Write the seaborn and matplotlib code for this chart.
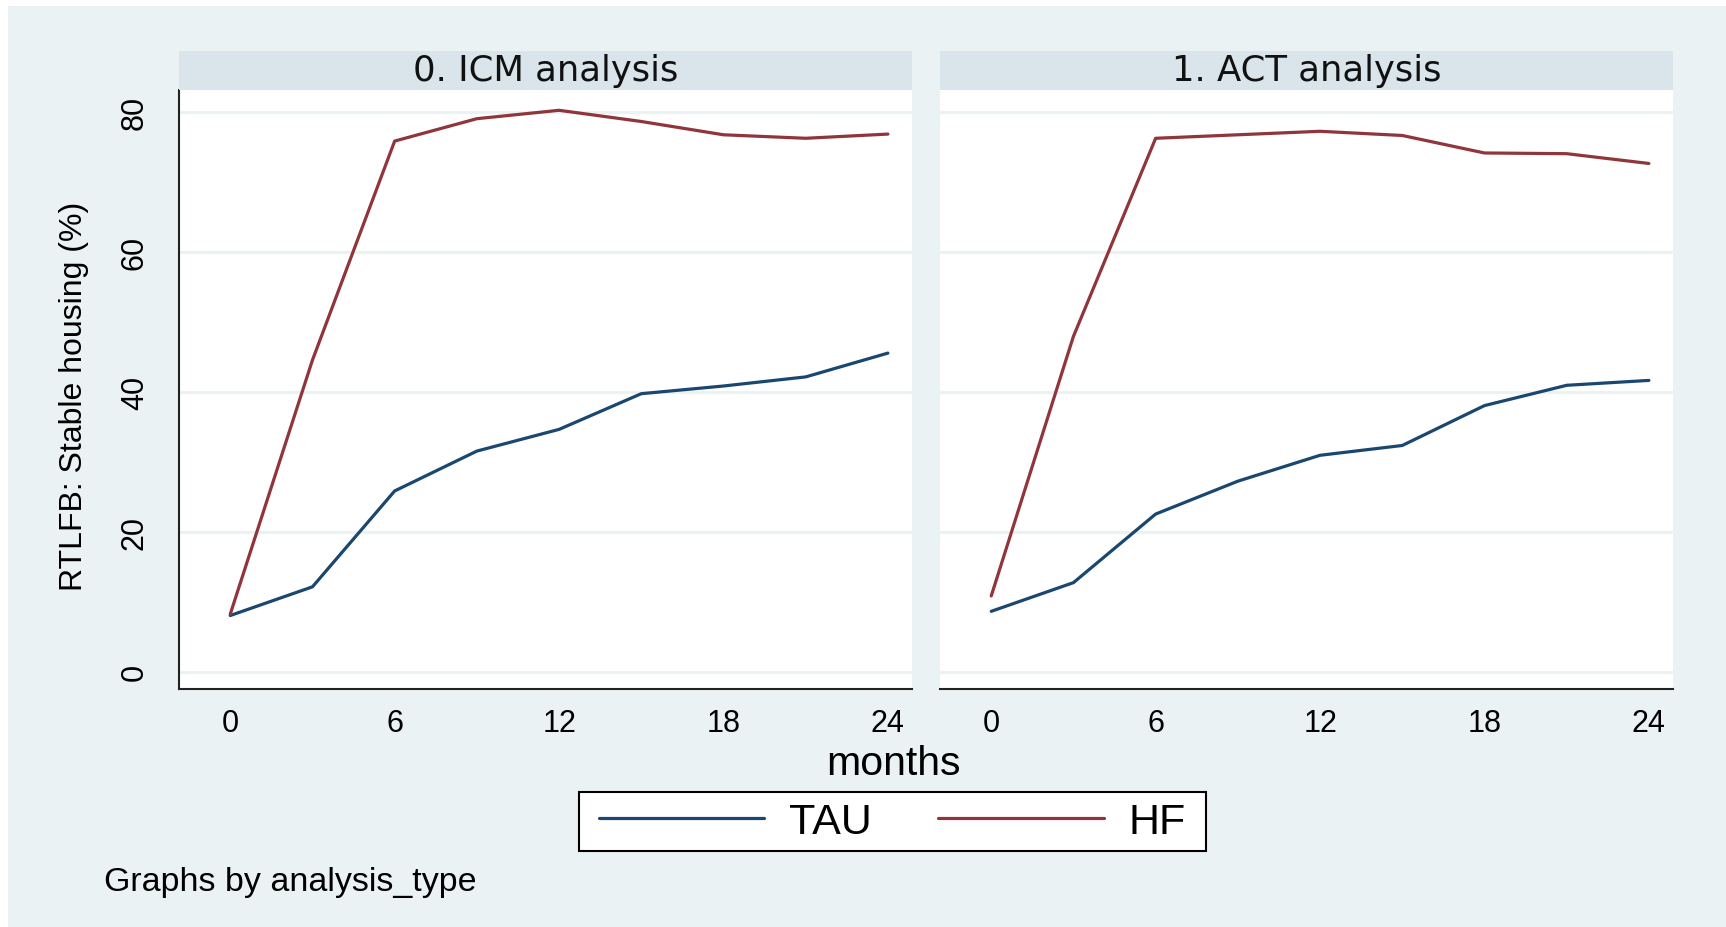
import pandas as pd
import matplotlib
matplotlib.use("Agg")
import matplotlib.pyplot as plt
from matplotlib.patches import Rectangle
import seaborn as sns

#%%
#  Data

months = [0, 3, 6, 9, 12, 15, 18, 21, 24]
panels = ["0. ICM analysis", "1. ACT analysis"]
groups = ["TAU", "HF"]

icm_tau = [8.0, 12.1, 25.8, 31.5, 34.6, 39.7, 40.8, 42.1, 45.5]
icm_hf = [8.2, 44.5, 75.8, 79.0, 80.2, 78.6, 76.7, 76.2, 76.8]
act_tau = [8.6, 12.7, 22.5, 27.2, 30.9, 32.3, 38.0, 40.9, 41.6]
act_hf = [10.8, 47.9, 76.2, 76.7, 77.2, 76.6, 74.1, 74.0, 72.6]

series = {
    (panels[0], "TAU"): icm_tau,
    (panels[0], "HF"): icm_hf,
    (panels[1], "TAU"): act_tau,
    (panels[1], "HF"): act_hf,
}
rows = []
for (panel, grp), vals in series.items():
    for m, v in zip(months, vals):
        rows.append({"analysis": panel, "group": grp, "months": m, "pct": v})
df = pd.DataFrame(rows)

#%%
#  Styling (Stata s2color look)

sns.set_style("white")
plt.rcParams["font.family"] = ["Liberation Sans", "DejaVu Sans"]
plt.rcParams["text.color"] = "black"
plt.rcParams["xtick.color"] = "black"
plt.rcParams["ytick.color"] = "black"

BG = "#EAF2F3"
STRIP = "#D9E5EA"
palette = {"TAU": "#1A476F", "HF": "#90353B"}

W, H = 1726, 928
fig = plt.figure(figsize=(W / 100, H / 100), dpi=100)
fig.patch.set_facecolor("white")
fig.add_artist(Rectangle((8 / W, 0), 1, 1 - 7 / H, transform=fig.transFigure,
                         facecolor=BG, edgecolor="none", zorder=0))


def px(x0, y0, x1, y1):
    # pixel box -> figure fraction rect
    return [x0 / W, 1 - y1 / H, (x1 - x0) / W, (y1 - y0) / H]


boxes = [(179, 91, 912, 690), (940, 91, 1673, 690)]
axes = []
for i, (panel, box) in enumerate(zip(panels, boxes)):
    x0, y0, x1, y1 = box
    ax = fig.add_axes(px(*box))
    axes.append(ax)
    # strip header
    fig.add_artist(Rectangle((x0 / W, 1 - y0 / H), (x1 - x0) / W, 39 / H,
                             transform=fig.transFigure, facecolor=STRIP,
                             edgecolor="none", zorder=1))
    fig.text((x0 + x1) / 2 / W, 1 - 71 / H, panel, ha="center", va="center",
             fontsize=25.5, family=["DejaVu Sans"], color="#111111")

    sub = df[df["analysis"] == panel]
    sns.lineplot(data=sub, x="months", y="pct", hue="group", hue_order=groups,
                 palette=palette, linewidth=2.3, ax=ax, legend=(i == 0))

    ax.set_facecolor("white")
    ax.set_xlim(-1.87, 24.88)
    ax.set_ylim(-2.5, 83.1)
    ax.set_xticks([0, 6, 12, 18, 24])
    ax.set_yticks([0, 20, 40, 60, 80])
    for yv in [0, 20, 40, 60, 80]:
        ax.axhline(yv, color=BG, lw=2.2, zorder=0.5)
    ax.set_xlabel("")
    ax.set_ylabel("")
    for s in ["top", "right"]:
        ax.spines[s].set_visible(False)
    ax.spines["bottom"].set_color("#222222")
    ax.spines["bottom"].set_linewidth(1.5)
    ax.tick_params(axis="x", direction="out", length=8, width=1.3,
                   color="#222222", labelcolor="black", labelsize=22, pad=6)
    if i == 0:
        ax.spines["left"].set_color("#222222")
        ax.spines["left"].set_linewidth(1.5)
        ax.tick_params(axis="y", direction="out", length=8, width=1.3,
                       color="#222222", labelcolor="black", labelsize=22,
                       pad=13)
        for lab in ax.get_yticklabels():
            lab.set_rotation(90)
            lab.set_va("center")
    else:
        ax.spines["left"].set_visible(False)
        ax.tick_params(axis="y", left=False, labelleft=False)

handles, labels = axes[0].get_legend_handles_labels()
axes[0].get_legend().remove()

# legend frame drawn by hand so the padding matches
fig.add_artist(Rectangle((579 / W, 1 - 852 / H), 627 / W, 59 / H,
                         transform=fig.transFigure, facecolor="white",
                         edgecolor="black", linewidth=1.5, zorder=2))
leg = fig.legend(handles, labels, loc="center",
                 bbox_to_anchor=(892 / W, 1 - 823 / H), ncol=2, fontsize=31,
                 frameon=False, handlelength=3.85, handletextpad=0.56,
                 columnspacing=1.55, borderpad=0.0, labelcolor="black")
leg.set_zorder(3)

fig.text(74 / W, 1 - 396 / H, "RTLFB: Stable housing (%)", rotation=90,
         ha="center", va="center", fontsize=23, color="black")
fig.text(893 / W, 1 - 764 / H, "months", ha="center", va="center",
         fontsize=29.5, color="black")
fig.text(104 / W, 1 - 883 / H, "Graphs by analysis_type", ha="left",
         va="center", fontsize=24.5, color="black")

fig.savefig("out.png", dpi=100, facecolor=fig.get_facecolor())
